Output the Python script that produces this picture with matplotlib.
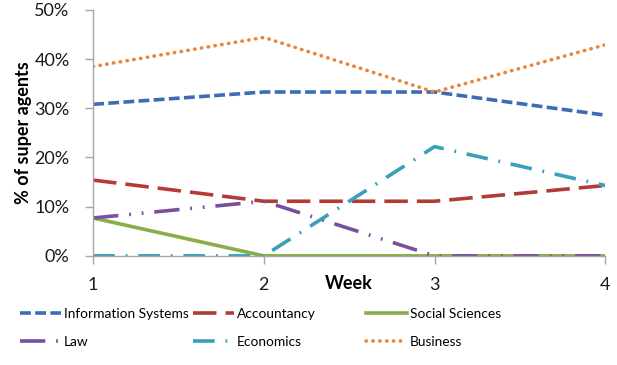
import matplotlib
matplotlib.use('Agg')
import matplotlib.pyplot as plt
from matplotlib.ticker import FuncFormatter

weeks = [1, 2, 3, 4]
info_systems = [30.8, 33.3, 33.3, 28.6]
accountancy = [15.4, 11.1, 11.1, 14.3]
social_sciences = [7.7, 0.0, 0.0, 0.0]
law = [7.7, 11.1, 0.0, 0.0]
economics = [0.0, 0.0, 22.2, 14.3]
business = [38.5, 44.4, 33.3, 42.9]

plt.rcParams['font.family'] = ['Lato', 'DejaVu Sans']

fig = plt.figure(figsize=(6.17, 3.65), dpi=100)
ax = fig.add_axes([0.151, 0.299, 0.830, 0.674])

lw = 2.6
l_is, = ax.plot(weeks, info_systems, color='#3C6DB4', lw=lw, dashes=(3, 1.2), label='Information Systems')
l_acc, = ax.plot(weeks, accountancy, color='#B33A37', lw=lw, dashes=(6.5, 2.5), label='Accountancy')
l_soc, = ax.plot(weeks, social_sciences, color='#88AE48', lw=lw, label='Social Sciences')
l_law, = ax.plot(weeks, law, color='#7A4F9D', lw=lw, dashes=(7, 3, 0.5, 3, 0.5, 3), label='Law')
l_eco, = ax.plot(weeks, economics, color='#38A0B8', lw=lw, dashes=(6, 3, 0.5, 3), label='Economics')
l_bus, = ax.plot(weeks, business, color='#EA8438', lw=lw, dashes=(0.1, 1.8),
                 dash_capstyle='round', label='Business')

ax.set_xlim(1, 4)
ax.set_ylim(0, 50)
ax.set_yticks([0, 10, 20, 30, 40, 50])
ax.set_xticks(weeks)
ax.yaxis.set_major_formatter(FuncFormatter(lambda v, p: '%d%%' % v))

for s in ['top', 'right']:
    ax.spines[s].set_visible(False)
for s in ['left', 'bottom']:
    ax.spines[s].set_color('#A6A6A6')
    ax.spines[s].set_linewidth(1.0)
ax.tick_params(axis='both', colors='#A6A6A6', length=6, width=1, labelcolor='#1A1A1A', labelsize=13)
ax.tick_params(axis='x', pad=9)
ax.tick_params(axis='y', pad=11)

ax.set_ylabel('% of super agents', fontsize=13, fontweight='bold')
ax.yaxis.set_label_coords(-0.12, 0.5)
ax.set_xlabel('Week', fontsize=13, fontweight='bold')
ax.xaxis.set_label_coords(0.5, -0.078)

# legend entries laid out on an even grid: 3 columns, 2 rows
entries = [(l_is, 0.032, 0.140), (l_acc, 0.313, 0.140), (l_soc, 0.593, 0.140),
           (l_law, 0.032, 0.063), (l_eco, 0.313, 0.063), (l_bus, 0.593, 0.063)]
for h, x0, y0 in entries:
    fig.legend(handles=[h], loc='center left', bbox_to_anchor=(x0, y0),
               frameon=False, fontsize=9.9, handlelength=3.0, handletextpad=0.2,
               borderaxespad=0, borderpad=0)

plt.savefig('out.png', dpi=100)
